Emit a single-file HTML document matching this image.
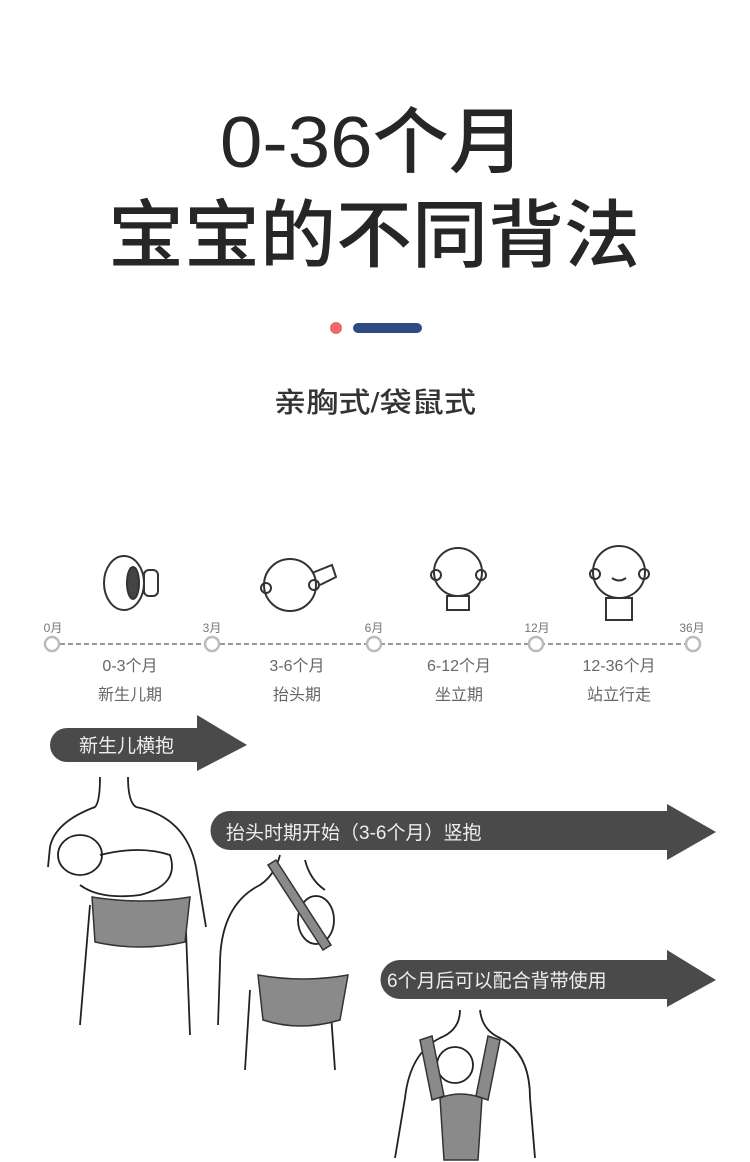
<!DOCTYPE html>
<html><head><meta charset="utf-8"><style>
html,body{margin:0;padding:0;background:#fff;}
svg{display:block}
text{font-family:"Liberation Sans","Noto Sans CJK SC",sans-serif;}
</style></head><body>
<svg width="750" height="1162" viewBox="0 0 750 1162" xmlns="http://www.w3.org/2000/svg">
<rect width="750" height="1162" fill="#fff"/>
<g fill="#262626">
<text x="220" y="167" font-size="72" font-weight="500" textLength="305" lengthAdjust="spacingAndGlyphs" font-family="'Noto Sans CJK SC',sans-serif">0-36个月</text>
<text x="108" y="261" font-size="74" font-weight="500" textLength="532" lengthAdjust="spacingAndGlyphs" font-family="'Noto Sans CJK SC',sans-serif">宝宝的不同背法</text>
<text x="274" y="412" font-size="28" font-weight="500" fill="#333" textLength="202" lengthAdjust="spacingAndGlyphs" font-family="'Noto Sans CJK SC',sans-serif">亲胸式/袋鼠式</text>
</g>
<circle cx="336" cy="328" r="6" fill="#ee6a6a"/>
<rect x="353" y="323" width="69" height="10" rx="5" fill="#2f4b85"/>

<line x1="52" y1="644" x2="693" y2="644" stroke="#777" stroke-width="1.5" stroke-dasharray="5,3"/>
<g fill="#fff" stroke="#bbb" stroke-width="2.5">
<circle cx="52" cy="644" r="7"/><circle cx="212" cy="644" r="7"/><circle cx="374" cy="644" r="7"/><circle cx="536" cy="644" r="7"/><circle cx="693" cy="644" r="7"/>
</g>
<g font-size="12" fill="#777" text-anchor="middle" font-family="'Noto Sans CJK SC',sans-serif">
<text x="53" y="632">0月</text><text x="212" y="632">3月</text><text x="374" y="632">6月</text><text x="537" y="632">12月</text><text x="692" y="632">36月</text>
</g>
<g font-size="16" fill="#666" text-anchor="middle" font-family="'Noto Sans CJK SC',sans-serif">
<text x="130" y="671">0-3个月</text><text x="130" y="700">新生儿期</text>
<text x="297" y="671">3-6个月</text><text x="297" y="700">抬头期</text>
<text x="459" y="671">6-12个月</text><text x="459" y="700">坐立期</text>
<text x="619" y="671">12-36个月</text><text x="619" y="700">站立行走</text>
</g>
<g fill="none" stroke="#333" stroke-width="2">
<ellipse cx="124" cy="583" rx="20" ry="27"/><ellipse cx="133" cy="583" rx="6" ry="16" fill="#444"/><rect x="144" y="570" width="14" height="26" rx="5"/>
<circle cx="290" cy="585" r="26"/><circle cx="266" cy="588" r="5"/><circle cx="314" cy="585" r="5"/><path d="M312 573 l20 -8 l4 12 l-16 8"/>
<circle cx="458" cy="572" r="24"/><circle cx="436" cy="575" r="5"/><circle cx="481" cy="575" r="5"/><path d="M447 596 h22 v14 h-22z"/>
<circle cx="619" cy="572" r="26"/><circle cx="595" cy="574" r="5"/><circle cx="644" cy="574" r="5"/><path d="M606 598 h26 v22 h-26z"/><path d="M612 578 q7 5 14 0"/>
</g>
<g fill="#4a4a4a">
<path d="M67 728 H197 V715 L247 745 L197 771 V762 H67 A17 17 0 0 1 67 728Z"/>
<path d="M230 811 H667 V804 L716 832 L667 860 V850 H230 A19.5 19.5 0 0 1 230 811Z"/>
<path d="M400 960 H667 V950 L716 980 L667 1007 V999 H400 A19.5 19.5 0 0 1 400 960Z"/>
</g>
<g fill="#eee" font-family="'Noto Sans CJK SC',sans-serif" font-size="19">
<text x="79" y="752">新生儿横抱</text>
<text x="226" y="839">抬头时期开始（3-6个月）竖抱</text>
<text x="387" y="987">6个月后可以配合背带使用</text>
</g>
<g fill="none" stroke="#222" stroke-width="1.8">
<path d="M100 777 q0 25 -5 30 q-40 15 -45 40 l-2 20 M128 777 q0 25 8 30 q50 10 60 60 l10 60"/>
<path d="M90 905 l-10 120 M185 905 l5 130"/>
<ellipse cx="80" cy="855" rx="22" ry="20"/>
<path d="M100 855 q40 -10 70 0 q10 30 -30 40 q-40 5 -60 -10"/>
<path d="M280 855 q-5 20 -20 30 q-40 20 -40 80 l-2 60 M305 860 q5 20 20 30"/>
<ellipse cx="316" cy="920" rx="18" ry="24"/>
<path d="M250 990 l-5 80 M330 1000 l5 70"/>
<path d="M460 1010 q0 20 -20 28 q-30 15 -35 60 l-10 60 M480 1010 q2 20 20 28 q30 15 30 60 l5 60"/>
<circle cx="455" cy="1065" r="18"/>
</g>
<g fill="#8a8a8a" stroke="#333" stroke-width="1.5">
<path d="M92 897 q50 8 98 0 l-5 45 q-45 10 -90 0z"/>
<path d="M258 975 q45 8 90 0 l-8 45 q-40 12 -77 0z"/>
<path d="M268 865 l8 -5 l55 85 l-8 5z"/>
<path d="M420 1040 l12 -4 l12 60 l-12 4z M500 1040 l-12 -4 l-12 60 l12 4z"/>
<path d="M440 1098 q20 -8 42 0 l-4 62 h-34z"/>
</g>
</svg>
</body></html>
